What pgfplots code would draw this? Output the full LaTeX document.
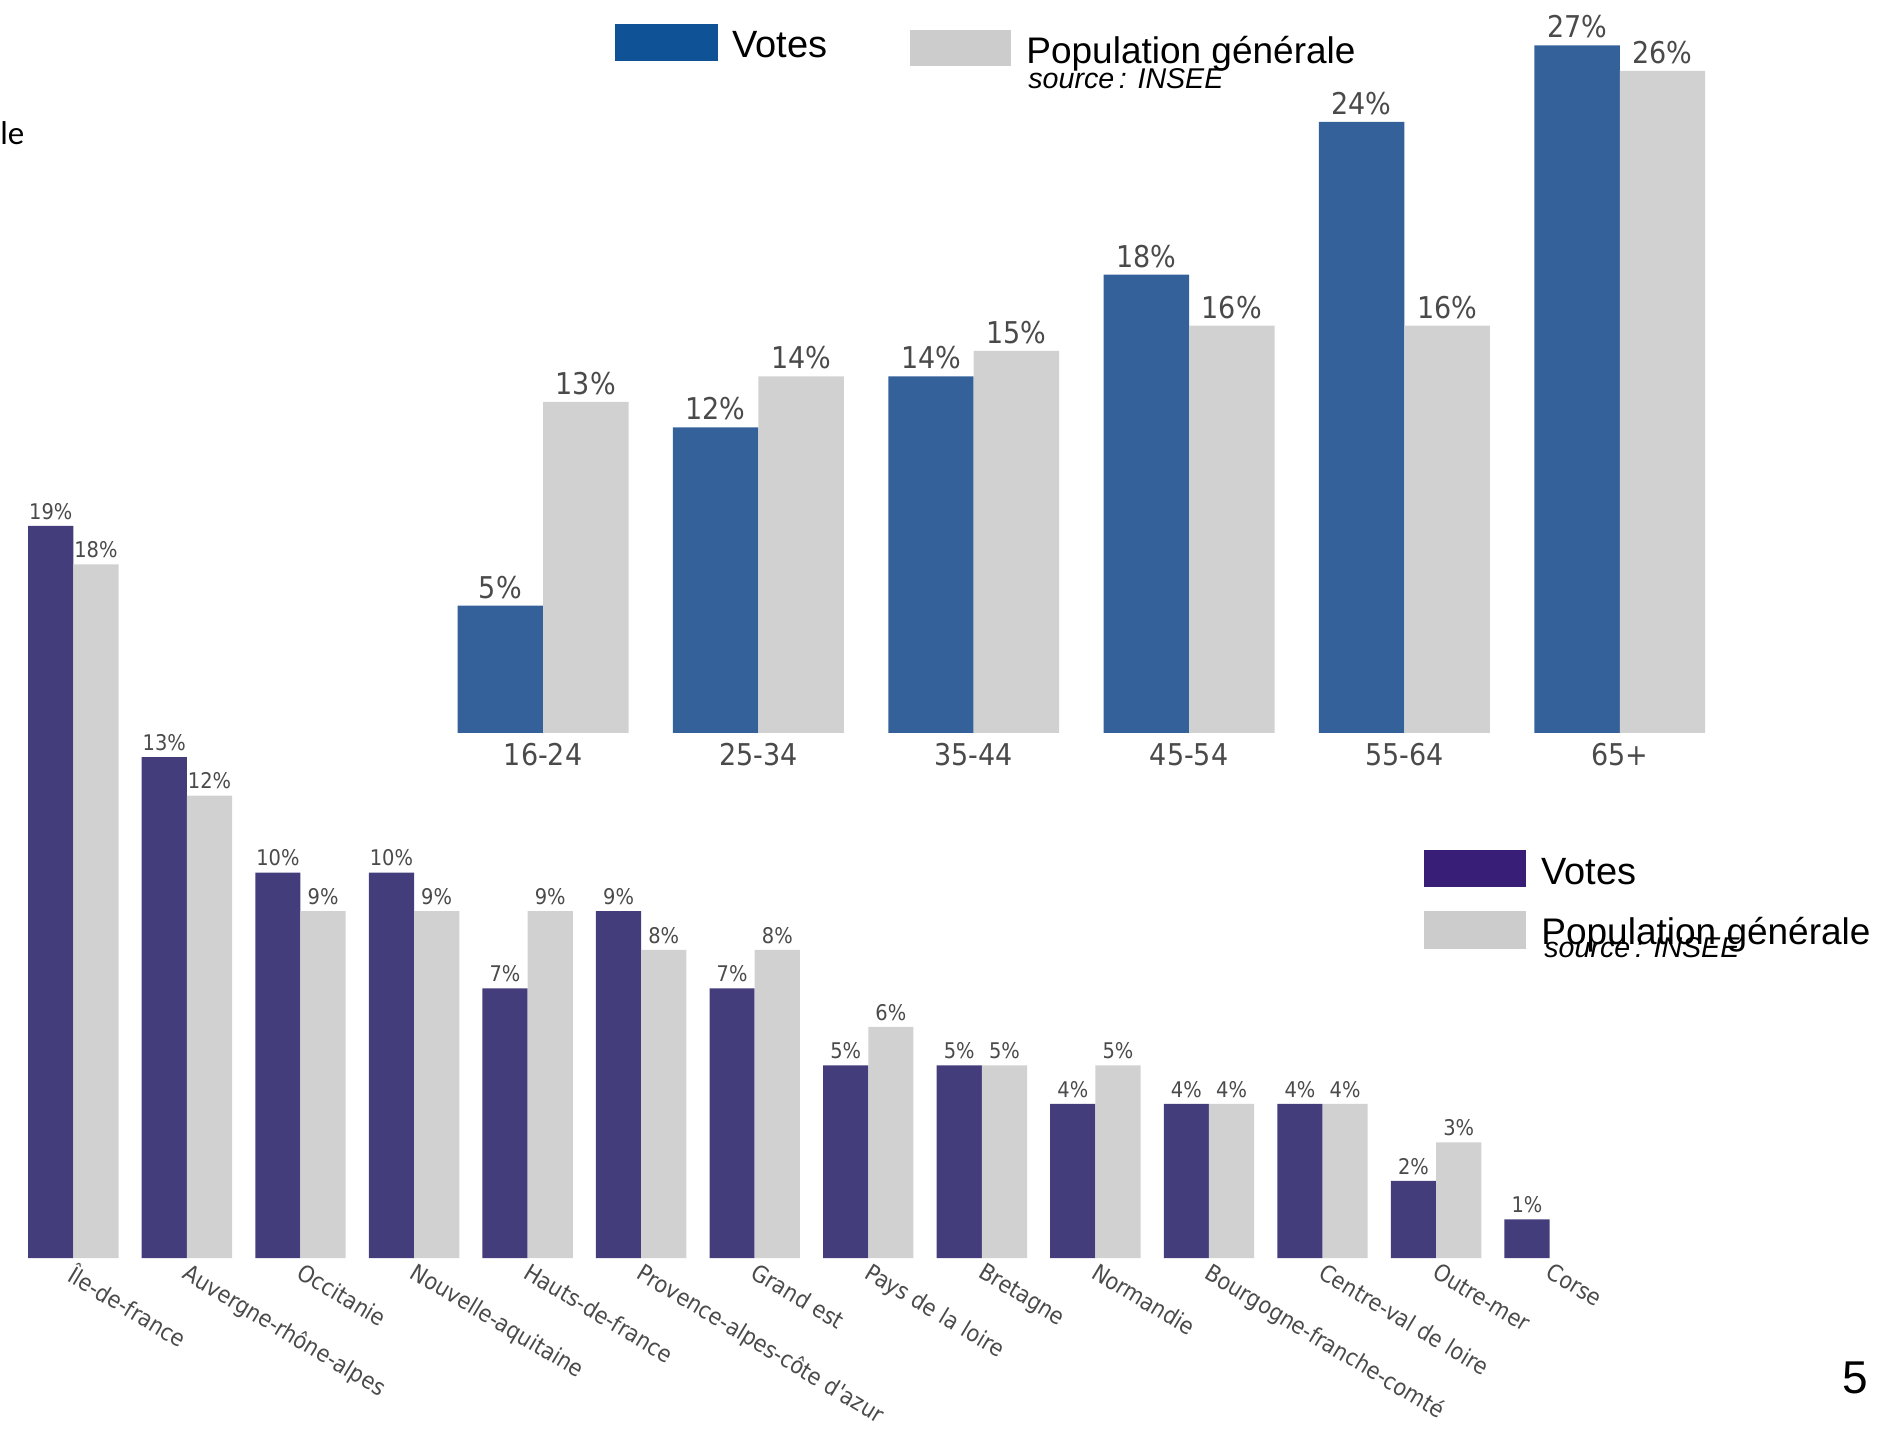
\documentclass[border=0pt]{standalone}
\usepackage{pgfplots}
\pgfplotsset{compat=1.18}
\usepackage{fontspec}
\setmainfont{Liberation Sans}
\newfontfamily\lab{DejaVu Sans Condensed}
\newfontfamily\carlitofont{Carlito}
\definecolor{topblue}{HTML}{34619A}
\definecolor{toplegblue}{HTML}{0F5396}
\definecolor{botpurple}{HTML}{433D7C}
\definecolor{botlegpurple}{HTML}{381E77}
\definecolor{barg}{HTML}{D1D1D1}
\definecolor{legg}{HTML}{CCCCCC}
\definecolor{txtg}{HTML}{4A4A4A}
\begin{document}
\begin{tikzpicture}
\useasboundingbox (0pt,0pt) rectangle (944pt,714.5pt);
% ---------------- top chart (age groups)
\begin{axis}[
  at={(217.7pt,348pt)}, anchor=south west,
  scale only axis, width=646pt, height=382pt,
  xmin=-0.5, xmax=5.5, ymin=0, ymax=30,
  hide y axis, axis x line*=bottom, x axis line style={draw=none},
  xtick={0,1,2,3,4,5},
  xticklabels={16-24,25-34,35-44,45-54,55-64,65+},
  major tick length=0pt,
  xticklabel style={font=\lab\fontsize{15}{18}\selectfont, text=txtg, yshift=-1.8pt},
  ybar, bar width=0.397, clip=false,
  /pgf/number format/assume math mode=true,
  nodes near coords={\pgfmathprintnumber[fixed,precision=0]{\pgfplotspointmeta}\%},
  every node near coord/.append style={font=\lab\fontsize{15}{18}\selectfont, text=txtg},
]
\addplot[fill=topblue, draw=none, bar shift=-0.1985] coordinates {(0,5) (1,12) (2,14) (3,18) (4,24) (5,27)};
\addplot[fill=barg, draw=none, bar shift=0.1985] coordinates {(0,13) (1,14) (2,15) (3,16) (4,16) (5,26)};
\end{axis}
% ---------------- bottom chart (regions)
\begin{axis}[
  at={(8.3pt,85.5pt)}, anchor=south west,
  scale only axis, width=794.9pt, height=385.3pt,
  xmin=-0.5, xmax=13.5, ymin=0, ymax=20,
  hide y axis, axis x line*=bottom, x axis line style={draw=none},
  xtick={0,1,2,3,4,5,6,7,8,9,10,11,12,13},
  xticklabels={Île-de-france,Auvergne-rhône-alpes,Occitanie,Nouvelle-aquitaine,Hauts-de-france,Provence-alpes-côte d'azur,Grand est,Pays de la loire,Bretagne,Normandie,Bourgogne-franche-comté,Centre-val de loire,Outre-mer,Corse},
  major tick length=0pt,
  xticklabel style={font=\lab\fontsize{11.6}{13}\selectfont, text=txtg, rotate=-31, anchor=north west, inner sep=0.5pt, xshift=2pt, yshift=0pt},
  ybar, bar width=0.398, clip=false,
  /pgf/number format/assume math mode=true,
  nodes near coords={\pgfmathprintnumber[fixed,precision=0]{\pgfplotspointmeta}\%},
  every node near coord/.append style={font=\lab\fontsize{10.8}{13}\selectfont, text=txtg, inner sep=2pt, yshift=1pt},
]
\addplot[fill=botpurple, draw=none, bar shift=-0.199] coordinates {(0,19) (1,13) (2,10) (3,10) (4,7) (5,9) (6,7) (7,5) (8,5) (9,4) (10,4) (11,4) (12,2) (13,1)};
\addplot[fill=barg, draw=none, bar shift=0.199] coordinates {(0,18) (1,12) (2,9) (3,9) (4,9) (5,8) (6,8) (7,6) (8,5) (9,5) (10,4) (11,4) (12,3)};
\end{axis}
% ---------------- slide texts and legends
\node[anchor=base west, inner sep=0pt, font=\carlitofont\fontsize{16.5}{19}\selectfont] at (0pt,642pt) {le};
\fill[toplegblue] (307.5pt,702.5pt) rectangle (359pt,684pt);
\fill[legg] (455pt,699.5pt) rectangle (505.5pt,681.5pt);
\node[anchor=base west, inner sep=0pt, font=\fontsize{19}{22}\selectfont] at (366pt,685.5pt) {Votes};
\node[anchor=base west, inner sep=0pt, font=\fontsize{18.5}{22}\selectfont] at (513pt,682.5pt) {Population générale};
\node[anchor=base west, inner sep=0pt, font=\itshape\fontsize{14.3}{16}\selectfont] at (514pt,670pt) {source\,: INSEE};
\fill[botlegpurple] (712pt,289.5pt) rectangle (763pt,271pt);
\fill[legg] (712pt,259pt) rectangle (763pt,240pt);
\node[anchor=base west, inner sep=0pt, font=\fontsize{19}{22}\selectfont] at (770.5pt,272pt) {Votes};
\node[anchor=base west, inner sep=0pt, font=\fontsize{18.5}{22}\selectfont] at (770.5pt,242pt) {Population générale};
\node[anchor=base west, inner sep=0pt, font=\itshape\fontsize{14.3}{16}\selectfont] at (772pt,235.5pt) {source\,: INSEE};
\node[anchor=base west, inner sep=0pt, font=\fontsize{23}{26}\selectfont] at (921pt,18pt) {5};
\end{tikzpicture}
\end{document}
